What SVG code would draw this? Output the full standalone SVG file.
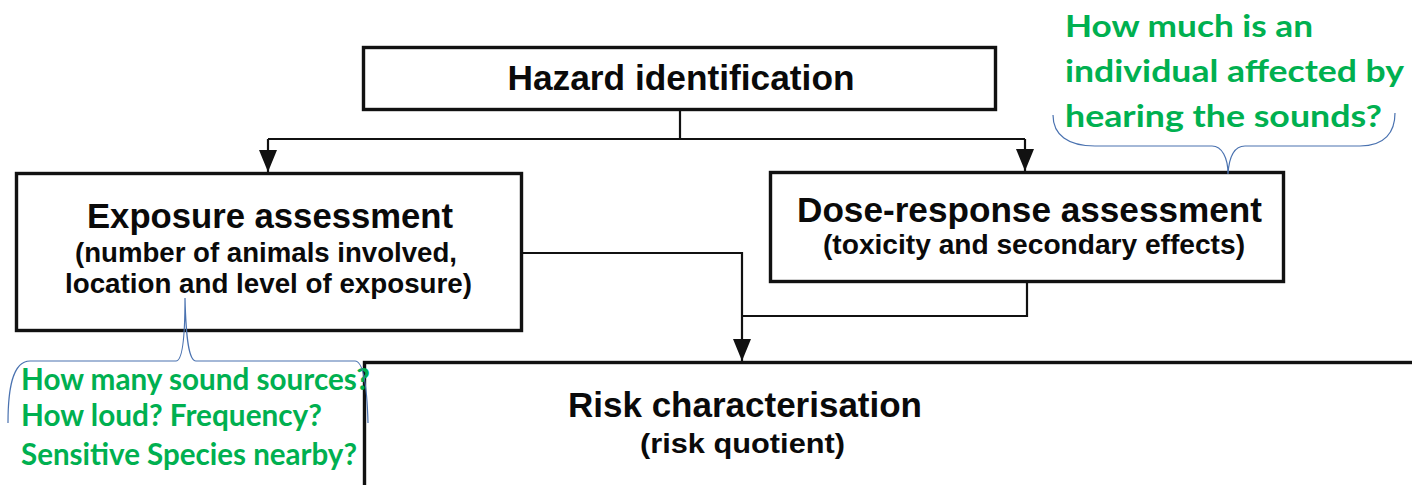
<svg xmlns="http://www.w3.org/2000/svg" width="1412" height="485" viewBox="0 0 1412 485">
<style>
.box{fill:#fff;stroke:#111;stroke-width:3.4}
.con{fill:none;stroke:#111;stroke-width:2.2}
.t{font-family:"Liberation Sans",Arial,sans-serif;font-weight:bold;fill:#0a0a0a;text-anchor:middle}
.h{font-size:35px}
.s{font-size:27px}
.g{font-family:Lato,"Noto Sans",sans-serif;font-weight:bold;fill:#00B050;font-size:31px}
.br{fill:none;stroke:#4a72b0;stroke-width:1.2}
</style>
<defs>
<marker id="arr" markerWidth="22" markerHeight="18" refX="22" refY="9" orient="auto" markerUnits="userSpaceOnUse">
<path d="M0,0 L22,9 L0,18 Z" fill="#111"/>
</marker>
</defs>
<rect width="1412" height="485" fill="#fff"/>
<g id="connectors">
<path class="con" d="M680,110 V139"/>
<path class="con" d="M268,139 H1025"/>
<path class="con" d="M268,139 V172" marker-end="url(#arr)"/>
<path class="con" d="M1025,139 V171" marker-end="url(#arr)"/>
<path class="con" d="M522,253 H742 V361" marker-end="url(#arr)"/>
<path class="con" d="M1027,282 V316 H742"/>
</g>
<g id="hazard">
<rect class="box" x="363.5" y="47.5" width="632" height="62"/>
<text class="t h" x="681" y="90" textLength="347" lengthAdjust="spacingAndGlyphs">Hazard identification</text>
</g>
<g id="exposure">
<rect class="box" x="16.5" y="173.5" width="505" height="157"/>
<text class="t h" x="270" y="228" textLength="366" lengthAdjust="spacingAndGlyphs">Exposure assessment</text>
<text class="t s" x="266" y="262" textLength="382" lengthAdjust="spacingAndGlyphs">(number of animals involved,</text>
<text class="t s" x="268.5" y="293" textLength="407" lengthAdjust="spacingAndGlyphs">location and level of exposure)</text>
</g>
<g id="dose">
<rect class="box" x="770.5" y="172.5" width="513" height="109"/>
<text class="t h" x="1029.5" y="222" textLength="465" lengthAdjust="spacingAndGlyphs">Dose-response assessment</text>
<text class="t s" x="1034" y="254" textLength="422" lengthAdjust="spacingAndGlyphs">(toxicity and secondary effects)</text>
</g>
<g id="risk">
<rect class="box" x="364.5" y="362.5" width="1100" height="200"/>
<text class="t h" x="745" y="417" textLength="354" lengthAdjust="spacingAndGlyphs">Risk characterisation</text>
<text class="t s" x="742.5" y="453" textLength="205" lengthAdjust="spacingAndGlyphs">(risk quotient)</text>
</g>
<g id="note-individual">
<text class="g" x="1065" y="37" textLength="248" lengthAdjust="spacingAndGlyphs">How much is an</text>
<text class="g" x="1065" y="82" textLength="339" lengthAdjust="spacingAndGlyphs">individual affected by</text>
<text class="g" x="1065" y="127" textLength="317" lengthAdjust="spacingAndGlyphs">hearing the sounds?</text>
<path class="br" d="M1053,115 C1053,135 1068,146 1095,146 L1212,146 C1222,146 1228,158 1228,174 C1229,158 1234,146 1245,146 L1360,146 C1385,146 1395,132 1395,113"/>
</g>
<g id="note-exposure">
<text class="g" x="21" y="390" textLength="349" lengthAdjust="spacingAndGlyphs">How many sound sources?</text>
<text class="g" x="21" y="426" textLength="301" lengthAdjust="spacingAndGlyphs">How loud? Frequency?</text>
<text class="g" x="21" y="465" textLength="336" lengthAdjust="spacingAndGlyphs">Sensitive Species nearby?</text>
<path class="br" d="M8,423 C8,390 12,361 30,361 L176,361 C182,361 185,340 185,298 C186,340 189,361 196,361 L355,361 C363,361 367,385 368,423"/>
</g>
</svg>
